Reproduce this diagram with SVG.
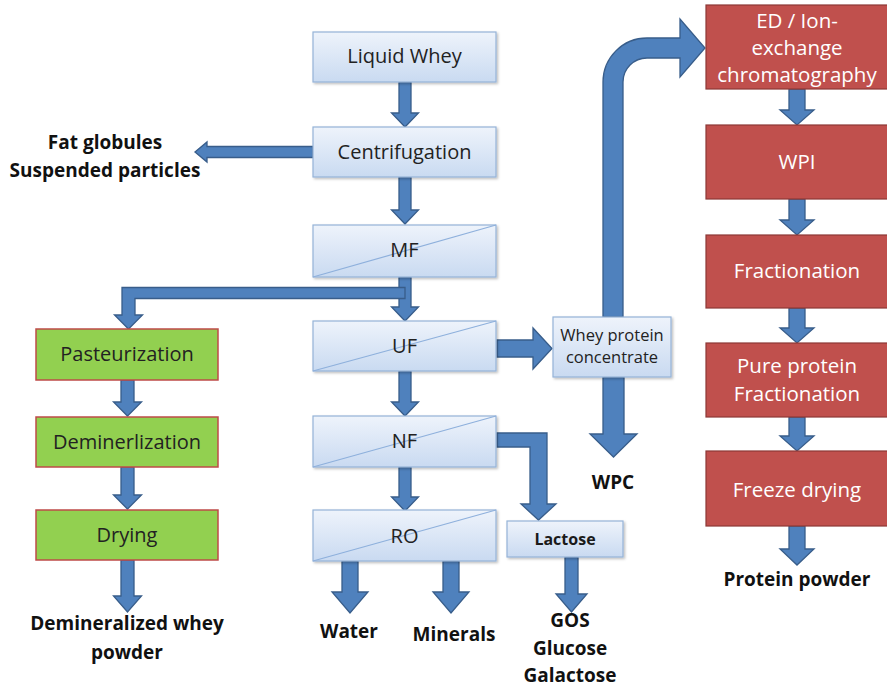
<svg xmlns="http://www.w3.org/2000/svg" width="887" height="687" viewBox="0 0 887 687">
  <defs>
    <linearGradient id="blueFill" x1="0" y1="0" x2="0" y2="1">
      <stop offset="0" stop-color="#eef3fb"/>
      <stop offset="1" stop-color="#c9daf1"/>
    </linearGradient>
    <filter id="shadow" x="-5%" y="-10%" width="115%" height="130%">
      <feDropShadow dx="1.5" dy="1.5" stdDeviation="1.2" flood-color="#000" flood-opacity="0.25"/>
    </filter>
  </defs>
  <style>
    .blue { fill: url(#blueFill); stroke: #95b3d7; stroke-width: 1.2; filter: url(#shadow); }
    .green { fill: #92d050; stroke: #be4b48; stroke-width: 1.5; }
    .red { fill: #c0504d; stroke: #8c3836; stroke-width: 1.2; }
    .diag { stroke: #8eb0dc; stroke-width: 1.2; fill: none; }
    .arrow { fill: #4f81bd; stroke: #385d8a; stroke-width: 1.3; stroke-linejoin: miter; }
    text { font-family: "Open Sans", "Liberation Sans", sans-serif; text-anchor: middle; }
    .t { font-size: 20px; fill: #222222; }
    .tw { font-size: 20.5px; fill: #ffffff; }
    .ts { font-size: 16.5px; fill: #222222; }
    .tsb { font-size: 16px; fill: #1a1a1a; font-weight: bold; }
    .lbl { font-size: 19px; fill: #111111; font-weight: bold; }
  </style>

  <!-- connectors -->
  <g id="connectors">
    <!-- Liquid Whey -> Centrifugation -->
    <path class="arrow" d="M399,82 L411,82 L411,113 L418.5,113 L405,127 L391.5,113 L399,113 Z"/>
    <!-- Centrifugation -> fat / particles -->
    <path class="arrow" d="M313,146.5 L207,146.5 L207,142 L195,152 L207,162 L207,157.5 L313,157.5 Z"/>
    <!-- Centrifugation -> MF -->
    <path class="arrow" d="M399,177 L411,177 L411,210 L418.5,210 L405,224 L391.5,210 L399,210 Z"/>
    <!-- MF -> UF -->
    <path class="arrow" d="M399,277 L411,277 L411,307 L418.5,307 L405,321 L391.5,307 L399,307 Z"/>
    <!-- MF branch -> Pasteurization -->
    <path class="arrow" d="M405,287.5 L122,287.5 L122,315 L114.5,315 L128.5,329 L142.5,315 L135,315 L135,298.5 L405,298.5 Z"/>
    <!-- Pasteurization -> Deminerlization -->
    <path class="arrow" d="M121,380 L134,380 L134,402 L141.5,402 L127.5,416 L113.5,402 L121,402 Z"/>
    <!-- Deminerlization -> Drying -->
    <path class="arrow" d="M121,467 L134,467 L134,495 L141.5,495 L127.5,509 L113.5,495 L121,495 Z"/>
    <!-- Drying -> demineralized whey powder -->
    <path class="arrow" d="M121,560 L134,560 L134,596 L141.5,596 L127.5,612 L113.5,596 L121,596 Z"/>
    <!-- UF -> Whey protein concentrate -->
    <path class="arrow" d="M497,340 L533,340 L533,328 L552,348.5 L533,369 L533,357 L497,357 Z"/>
    <!-- UF -> NF -->
    <path class="arrow" d="M399,371 L411,371 L411,402 L418.5,402 L405,416 L391.5,402 L399,402 Z"/>
    <!-- NF -> RO -->
    <path class="arrow" d="M399,467 L411,467 L411,497 L418.5,497 L405,511 L391.5,497 L399,497 Z"/>
    <!-- NF -> Lactose -->
    <path class="arrow" d="M497,433 L547,433 L547,504 L556,504 L538.5,520 L521,504 L530,504 L530,447 L497,447 Z"/>
    <!-- RO -> Water -->
    <path class="arrow" d="M342,561 L358,561 L358,592 L368,592 L350,613 L332,592 L342,592 Z"/>
    <!-- RO -> Minerals -->
    <path class="arrow" d="M443,561 L459,561 L459,592 L469,592 L451,613 L433,592 L443,592 Z"/>
    <!-- Lactose -> GOS / Glucose / Galactose -->
    <path class="arrow" d="M565,557 L578,557 L578,594 L587,594 L571.5,612 L556,594 L565,594 Z"/>
    <!-- Whey protein concentrate -> WPC -->
    <path class="arrow" d="M603,377 L624,377 L624,434 L637,434 L613.5,457 L590,434 L603,434 Z"/>
    <!-- Whey protein concentrate -> ED / Ion-exchange -->
    <path class="arrow" d="M603,317 L603,82 A44,44 0 0 1 647,38 L680,38 L680,19 L705,48 L680,77 L680,58 L647,58 A24,24 0 0 0 623,82 L623,317 Z"/>
    <!-- red column -->
    <path class="arrow" d="M789,89 L805,89 L805,110 L814,110 L797,125 L780,110 L789,110 Z"/>
    <path class="arrow" d="M789,199 L805,199 L805,220 L814,220 L797,235 L780,220 L789,220 Z"/>
    <path class="arrow" d="M789,308 L805,308 L805,328 L814,328 L797,343 L780,328 L789,328 Z"/>
    <path class="arrow" d="M789,417 L805,417 L805,436 L814,436 L797,451 L780,436 L789,436 Z"/>
    <path class="arrow" d="M789,526 L805,526 L805,549 L814,549 L797,565 L780,549 L789,549 Z"/>
  </g>

  <!-- central column -->
  <g id="liquid-whey">
    <rect class="blue" x="313" y="32" width="183" height="50"/>
    <text class="t" x="404.5" y="63">Liquid Whey</text>
  </g>
  <g id="centrifugation">
    <rect class="blue" x="313" y="127" width="183" height="50"/>
    <text class="t" x="404.5" y="159">Centrifugation</text>
  </g>
  <g id="mf">
    <rect class="blue" x="313" y="225" width="183" height="52"/>
    <line class="diag" x1="313" y1="277" x2="496" y2="225"/>
    <text class="t" x="404.5" y="257">MF</text>
  </g>
  <g id="uf">
    <rect class="blue" x="313" y="321" width="183" height="50"/>
    <line class="diag" x1="313" y1="371" x2="496" y2="321"/>
    <text class="t" x="404.5" y="353">UF</text>
  </g>
  <g id="nf">
    <rect class="blue" x="313" y="416" width="183" height="51"/>
    <line class="diag" x1="313" y1="467" x2="496" y2="416"/>
    <text class="t" x="404.5" y="448">NF</text>
  </g>
  <g id="ro">
    <rect class="blue" x="313" y="510" width="183" height="51"/>
    <line class="diag" x1="313" y1="561" x2="496" y2="510"/>
    <text class="t" x="404.5" y="543">RO</text>
  </g>
  <g id="whey-protein-concentrate">
    <rect class="blue" x="553" y="317" width="118" height="60"/>
    <text class="ts" x="612" y="341">Whey protein</text>
    <text class="ts" x="612" y="363">concentrate</text>
  </g>
  <g id="lactose">
    <rect class="blue" x="507" y="521" width="116" height="36"/>
    <text class="tsb" x="565" y="545">Lactose</text>
  </g>

  <!-- left column -->
  <g id="pasteurization">
    <rect class="green" x="36" y="329" width="182" height="51"/>
    <text class="t" x="127" y="361">Pasteurization</text>
  </g>
  <g id="deminerlization">
    <rect class="green" x="36" y="417" width="182" height="50"/>
    <text class="t" x="127" y="449">Deminerlization</text>
  </g>
  <g id="drying">
    <rect class="green" x="36" y="510" width="182" height="50"/>
    <text class="t" x="127" y="542">Drying</text>
  </g>

  <!-- right column -->
  <g id="ed-ion-exchange">
    <rect class="red" x="706" y="5" width="184" height="84"/>
    <text class="tw" x="797" y="28">ED / Ion-</text>
    <text class="tw" x="797" y="55">exchange</text>
    <text class="tw" x="797" y="82">chromatography</text>
  </g>
  <g id="wpi">
    <rect class="red" x="706" y="125" width="184" height="74"/>
    <text class="tw" x="797" y="169">WPI</text>
  </g>
  <g id="fractionation">
    <rect class="red" x="706" y="235" width="184" height="73"/>
    <text class="tw" x="797" y="278">Fractionation</text>
  </g>
  <g id="pure-protein-fractionation">
    <rect class="red" x="706" y="343" width="184" height="74"/>
    <text class="tw" x="797" y="373">Pure protein</text>
    <text class="tw" x="797" y="401">Fractionation</text>
  </g>
  <g id="freeze-drying">
    <rect class="red" x="706" y="451" width="184" height="75"/>
    <text class="tw" x="797" y="497">Freeze drying</text>
  </g>

  <!-- output labels -->
  <g id="fat-globules">
    <text class="lbl" x="105" y="149">Fat globules</text>
    <text class="lbl" x="105" y="177">Suspended particles</text>
  </g>
  <g id="demineralized-whey-powder">
    <text class="lbl" x="127" y="630">Demineralized whey</text>
    <text class="lbl" x="127" y="659">powder</text>
  </g>
  <g id="water"><text class="lbl" x="349" y="638">Water</text></g>
  <g id="minerals"><text class="lbl" x="454" y="641">Minerals</text></g>
  <g id="gos-glucose-galactose">
    <text class="lbl" x="570" y="627">GOS</text>
    <text class="lbl" x="570" y="655">Glucose</text>
    <text class="lbl" x="570" y="682">Galactose</text>
  </g>
  <g id="wpc"><text class="lbl" x="613" y="489">WPC</text></g>
  <g id="protein-powder"><text class="lbl" x="797" y="586">Protein powder</text></g>
</svg>
